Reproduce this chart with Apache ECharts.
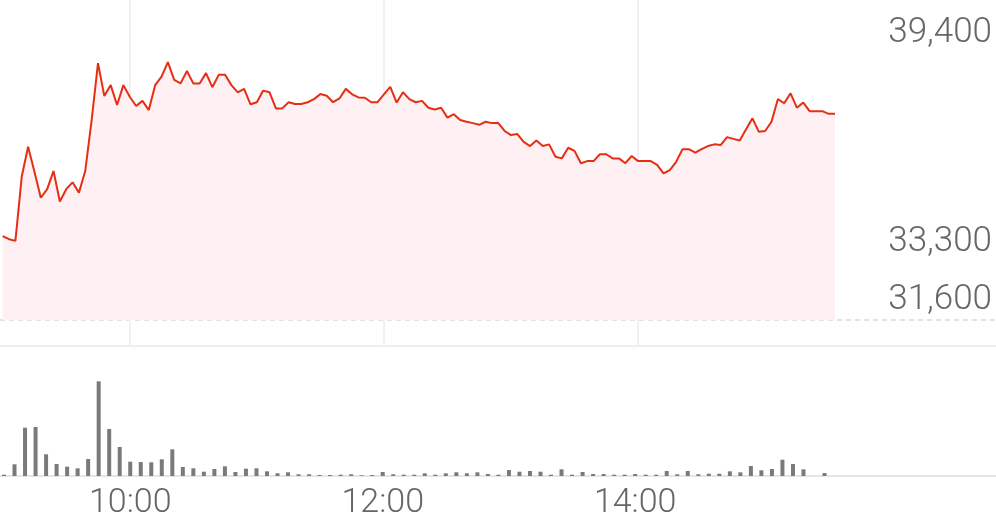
<!DOCTYPE html>
<html>
<head>
<meta charset="utf-8">
<script src="https://cdn.jsdelivr.net/npm/echarts@6/dist/echarts.min.js"></script>
<style>
  html, body { margin: 0; padding: 0; background: #ffffff; }
  #chart { width: 996px; height: 519px; }
</style>
</head>
<body>
<div id="chart"></div>
<script>
// Minutes after 09:00 between successive price samples / volume bars
const PRICE_STEP_MIN = 3;
const VOLUME_STEP_MIN = 5;

// Intraday price samples (KRW)
const prices = [
  33380, 33290, 33240, 35120, 35990, 35260, 34500, 34750, 35280, 34390,
  34750, 34950, 34650, 35290, 36770, 38430, 37470, 37790, 37210, 37790,
  37450, 37180, 37330, 37060, 37790, 38040, 38460, 37940, 37840, 38200,
  37840, 37840, 38140, 37730, 38090, 38090, 37790, 37580, 37680, 37230,
  37290, 37630, 37580, 37110, 37110, 37290, 37240, 37240, 37290, 37380,
  37530, 37480, 37290, 37400, 37680, 37520, 37430, 37420, 37290, 37290,
  37520, 37740, 37280, 37580, 37380, 37290, 37330, 37130, 37080, 37130,
  36840, 36940, 36770, 36720, 36680, 36630, 36720, 36680, 36680, 36450,
  36330, 36360, 36130, 36010, 36170, 36010, 36060, 35700, 35650, 35960,
  35870, 35510, 35570, 35570, 35770, 35770, 35650, 35650, 35510, 35720,
  35570, 35570, 35570, 35460, 35210, 35310, 35550, 35920, 35920, 35820,
  35920, 36010, 36060, 36040, 36270, 36220, 36170, 36500, 36820, 36430,
  36450, 36720, 37380, 37260, 37550, 37130, 37280, 37030, 37030, 37030,
  36950, 36950
];

// 5-minute volume bars (relative units); null = no bar
const volumes = [
  13, 117, 483, 490, 217, 120, 93, 77, 170, 947,
  470, 290, 143, 140, 137, 167, 267, 90, 77, 43,
  70, 97, 40, 73, 77, 47, 27, 37, 17, 17,
  10, 10, 13, 17, 7, 10, 40, 17, 13, 13,
  27, 13, 27, 37, 27, 37, 20, 13, 60, 43,
  50, 43, 13, 67, 13, 40, 20, 20, 13, 13,
  20, 13, 13, 50, 17, 50, 17, 23, 23, 47,
  37, 100, 57, 70, 163, 120, 67, null, 30
];

// Axis ticks
const timeTickValues = [60, 180, 300];
const timeTickLabels = ['10:00', '12:00', '14:00'];
const priceTickValues = [31600, 33300, 39400];
const priceTickLabels = ['31,600', '33,300', '39,400'];
const priceBaseline = 30929;

const priceData = prices.map((p, i) => [i * PRICE_STEP_MIN, p]);
const volumeData = volumes.map((v, k) => [k * VOLUME_STEP_MIN, v]);

const FONT = 'Roboto';
const chart = echarts.init(document.getElementById('chart'), null, { renderer: 'canvas' });

chart.setOption({
  animation: false,
  backgroundColor: '#ffffff',
  grid: [
    { left: 0, right: 0, top: 0, bottom: 173, containLabel: false, outerBoundsMode: 'none' },
    { left: 0, right: 0, top: 346, bottom: 43, containLabel: false, outerBoundsMode: 'none' }
  ],
  xAxis: [
    {
      type: 'value', gridIndex: 0, min: -1.27, max: 469,
      axisLine: { show: true, onZero: false, lineStyle: { color: '#eeeeee', width: 2 } },
      axisTick: { show: false, customValues: timeTickValues },
      axisLabel: { show: false },
      splitLine: { show: true, lineStyle: { color: '#f1f1f1', width: 2 } }
    },
    {
      type: 'value', gridIndex: 1, min: -1.9, max: 471.5,
      axisLine: { show: true, onZero: false, lineStyle: { color: '#e6e6e6', width: 2 } },
      axisTick: { show: false },
      splitLine: { show: false },
      axisLabel: {
        customValues: timeTickValues,
        formatter: v => timeTickLabels[timeTickValues.indexOf(v)],
        fontFamily: FONT, fontWeight: 300, fontSize: 34, color: '#666666', margin: 10
      }
    }
  ],
  yAxis: [
    {
      type: 'value', gridIndex: 0, position: 'right', min: 30170, max: 40276,
      axisLine: { show: false },
      axisTick: { show: false, customValues: [priceBaseline] },
      splitLine: { show: true, lineStyle: { type: [5, 4], color: '#dadada', width: 1.5 } },
      axisLabel: {
        inside: true,
        customValues: priceTickValues,
        formatter: v => '{p|' + priceTickLabels[priceTickValues.indexOf(v)] + '}',
        margin: 4,
        rich: {
          p: {
            fontFamily: FONT, fontWeight: 300, fontSize: 35, color: '#666666',
            padding: [6, 0, 0, 0]
          }
        }
      }
    },
    { type: 'value', gridIndex: 1, min: 0, max: 1300, show: false }
  ],
  series: [
    {
      type: 'line', xAxisIndex: 0, yAxisIndex: 0, data: priceData,
      showSymbol: false, symbol: 'none',
      lineStyle: { color: '#e62e12', width: 2 },
      areaStyle: { color: '#fff0f3', opacity: 1, origin: priceBaseline },
      z: 3
    },
    {
      type: 'bar', xAxisIndex: 1, yAxisIndex: 1, data: volumeData,
      barWidth: 4, itemStyle: { color: '#7a7a7a' }
    }
  ]
});
</script>
</body>
</html>
